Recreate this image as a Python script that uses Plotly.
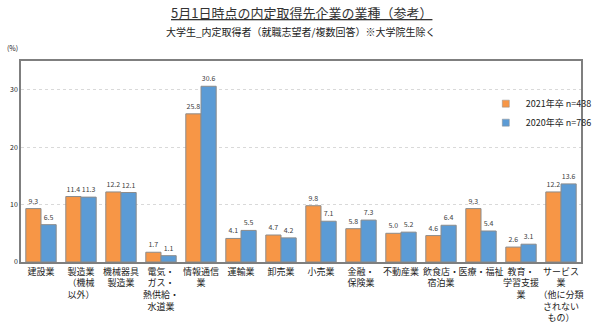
import plotly.graph_objects as go

categories = ["建設業", "製造業<br>（機械<br>以外）", "機械器具<br>製造業", "電気・<br>ガス・<br>熱供給・<br>水道業",
              "情報通信<br>業", "運輸業", "卸売業", "小売業", "金融・<br>保険業", "不動産業",
              "飲食店・<br>宿泊業", "医療・福祉", "教育・<br>学習支援<br>業", "サービス<br>業<br>（他に分類<br>されない<br>もの）"]
s2021 = [9.3, 11.4, 12.2, 1.7, 25.8, 4.1, 4.7, 9.8, 5.8, 5.0, 4.6, 9.3, 2.6, 12.2]
s2020 = [6.5, 11.3, 12.1, 1.1, 30.6, 5.5, 4.2, 7.1, 7.3, 5.2, 6.4, 5.4, 3.1, 13.6]
name2021 = "2021年卒 n=438"
name2020 = "2020年卒 n=786"
yticks = [0, 10, 20, 30]

C21 = "#F79646"
C20 = "#5B9BD5"
FONT = "Noto Sans CJK JP"
fig = go.Figure()
fig.add_trace(go.Bar(x=categories, y=s2021, name=name2021, showlegend=False,
                     marker=dict(color=C21, line=dict(color="#8c8c8c", width=1)),
                     text=[f"{v:.1f}" for v in s2021], textposition="outside",
                     textfont=dict(size=7, color="#404040"), cliponaxis=False))
fig.add_trace(go.Bar(x=categories, y=s2020, name=name2020, showlegend=False,
                     marker=dict(color=C20, line=dict(color="#8c8c8c", width=1)),
                     text=[f"{v:.1f}" for v in s2020], textposition="outside",
                     textfont=dict(size=7, color="#404040"), cliponaxis=False))
# legend entries with small square symbols
for nm, c in [(name2021, C21), (name2020, C20)]:
    fig.add_trace(go.Scatter(x=[None], y=[None], mode="markers", name=nm,
                             marker=dict(symbol="square", size=7, color=c,
                                         line=dict(color="#8c8c8c", width=0.5))))

fig.update_layout(
    width=600, height=324,
    margin=dict(l=21, r=3, t=61, b=62),
    paper_bgcolor="white", plot_bgcolor="white",
    font=dict(family=FONT, color="#222"),
    barmode="group", bargap=0.24, bargroupgap=0.0,
    showlegend=True,
    legend=dict(x=0.83, y=0.86, xanchor="left", yanchor="top",
                font=dict(size=9, color="#222"), bgcolor="rgba(0,0,0,0)",
                itemwidth=30, tracegroupgap=0),
    uniformtext=dict(minsize=7, mode="show"),
)
fig.update_xaxes(showline=True, linecolor="#7f7f7f", linewidth=1.5, mirror=True,
                 ticks="", tickfont=dict(size=9, color="#222"), tickangle=0,
                 automargin=False)
fig.update_yaxes(range=[0, 35], tickvals=yticks, showline=True, linecolor="#7f7f7f",
                 linewidth=1.5, mirror=True, showgrid=True, gridcolor="#d9d9d9",
                 griddash="dot", gridwidth=1, tickfont=dict(size=7, color="#222"),
                 zeroline=False, ticks="", automargin=False)

fig.add_annotation(text="<u>5月1日時点の内定取得先企業の業種（参考）</u>", xref="paper", yref="paper",
                   x=0.5, y=1, xanchor="center", yanchor="bottom", yshift=37, showarrow=False,
                   font=dict(size=13, color="#333", family=FONT))
fig.add_annotation(text="大学生_内定取得者（就職志望者/複数回答）※大学院生除く", xref="paper", yref="paper",
                   x=0.5, y=1, xanchor="center", yanchor="bottom", yshift=20, showarrow=False,
                   font=dict(size=10, color="#222", family=FONT))
fig.add_annotation(text="(%)", xref="paper", yref="paper", x=0, y=1, xanchor="left",
                   yanchor="bottom", xshift=-16, yshift=6, showarrow=False,
                   font=dict(size=7, color="#222", family=FONT))

fig.write_html("out.html")
